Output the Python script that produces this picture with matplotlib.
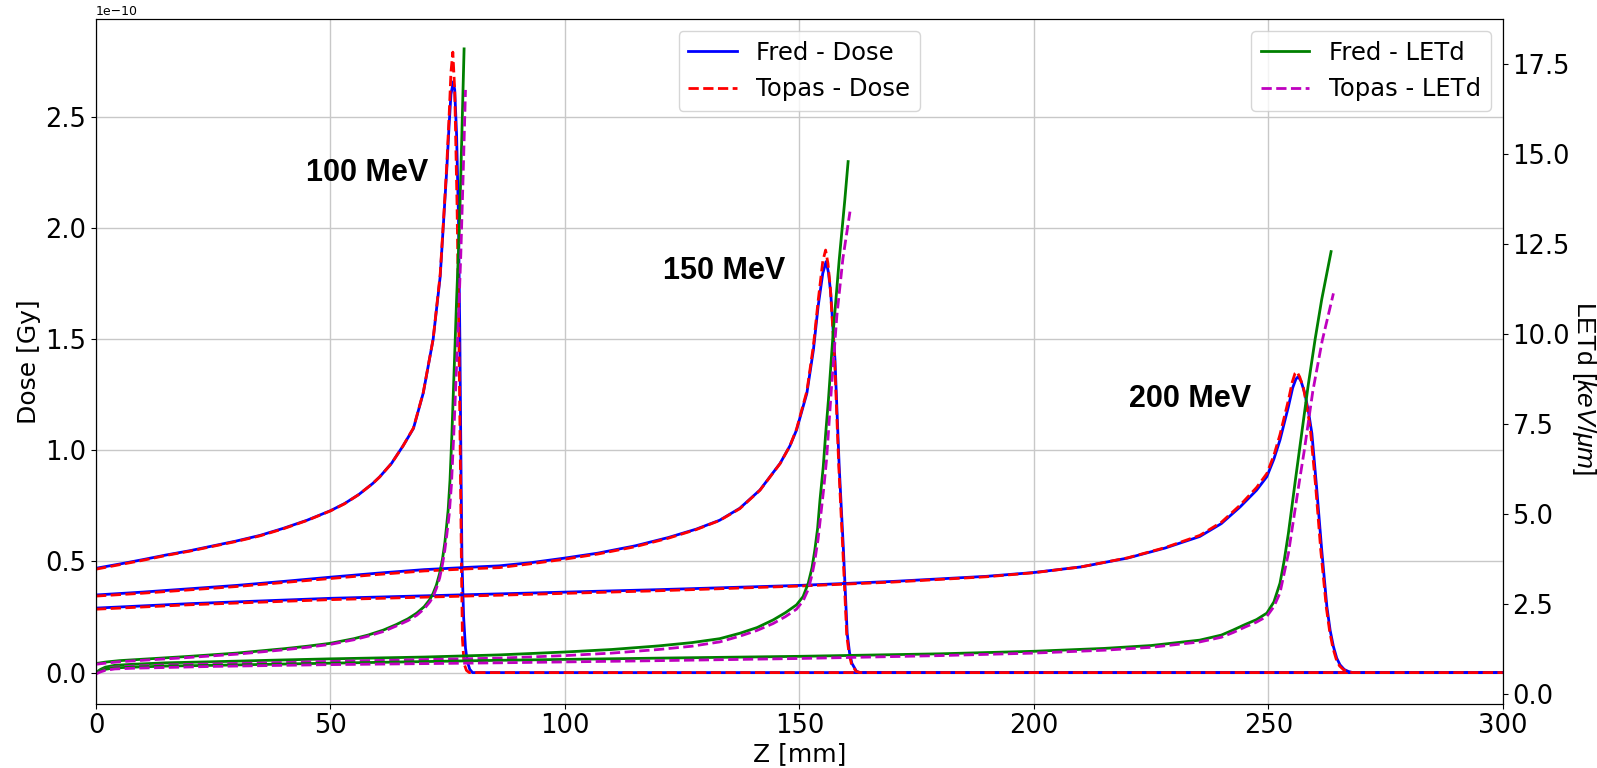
import matplotlib
matplotlib.use("Agg")
import matplotlib.pyplot as plt

plt.rcParams['mathtext.fontset'] = 'custom'
plt.rcParams['mathtext.rm'] = 'Liberation Sans'
plt.rcParams['mathtext.it'] = 'Liberation Sans:italic'

# ---------------- data (dose in units of 1e-10 Gy, LETd in keV/um) ----------------
DOSE_UNIT = 1e-10

# ---- 100 MeV ----
z100_fred_dose = [0, 5, 10, 15, 20, 25, 30, 35, 40, 45, 50, 53, 56, 59, 60.5, 63, 65.5, 67.7, 69.8,
                  71.9, 73.4, 74.1, 74.8, 75.3, 75.7, 76.2, 76.5, 76.9, 77.3, 77.6, 77.85, 78.05,
                  78.4, 78.8, 79.2, 79.7, 80.3, 300]
d100_fred_dose = [0.469, 0.488, 0.508, 0.529, 0.548, 0.57, 0.592, 0.617, 0.649, 0.685, 0.728, 0.76,
                  0.80, 0.85, 0.88, 0.94, 1.02, 1.098, 1.258, 1.499, 1.78, 2.02, 2.26, 2.46, 2.60,
                  2.657, 2.62, 2.42, 2.05, 1.5, 0.9, 0.5, 0.25, 0.11, 0.05, 0.015, 0.0, 0.0]
z100_topas_dose = [0, 5, 10, 15, 20, 25, 30, 35, 40, 45, 50, 53, 56, 59, 60.5, 63, 65.5, 67.7, 69.8,
                   71.9, 73.4, 74.1, 74.8, 75.3, 75.7, 76.1, 76.5, 77.0, 77.4, 77.7, 77.95, 78.15,
                   78.5, 79.0, 79.6, 300]
d100_topas_dose = [0.465, 0.485, 0.505, 0.527, 0.546, 0.568, 0.59, 0.615, 0.647, 0.684, 0.727, 0.759,
                   0.80, 0.85, 0.88, 0.94, 1.02, 1.10, 1.26, 1.50, 1.79, 2.03, 2.28, 2.50, 2.70,
                   2.79, 2.62, 2.10, 1.50, 0.95, 0.45, 0.15, 0.04, 0.01, 0.0, 0.0]
z100_fred_let = [0, 2, 5, 10, 20, 30, 40, 45, 49.9, 55, 58, 61.3, 64, 66.5, 68.4, 70, 71.2, 71.9,
                 72.6, 73.3, 73.9, 74.4, 74.8, 75.1, 75.5, 75.9, 76.3, 76.6, 76.9, 77.5, 78.0, 78.5]
l100_fred_let = [0.84, 0.88, 0.92, 0.96, 1.04, 1.13, 1.25, 1.32, 1.40, 1.53, 1.63, 1.77, 1.92, 2.08,
                 2.24, 2.42, 2.62, 2.79, 3.02, 3.35, 3.75, 4.2, 4.7, 5.1, 5.94, 7.2, 8.7, 9.8, 10.94,
                 12.94, 15.4, 17.91]
z100_topas_let = [0, 2, 5, 10, 20, 30, 40, 45, 49.9, 55, 58, 61.3, 64, 66.5, 68.4, 70, 71.2, 71.9,
                  72.6, 73.3, 73.9, 74.4, 74.8, 75.3, 75.8, 76.3, 76.8, 77.3, 77.8, 78.3, 78.8]
l100_topas_let = [0.82, 0.85, 0.89, 0.93, 1.01, 1.10, 1.22, 1.29, 1.37, 1.50, 1.60, 1.73, 1.88, 2.03,
                  2.18, 2.36, 2.55, 2.70, 2.93, 3.22, 3.6, 4.0, 4.4, 4.95, 5.8, 7.2, 8.8, 10.4, 12.2,
                  14.4, 16.77]

# ---- 150 MeV ----
z150_fred_dose = [0, 10, 20, 30, 40, 50, 60, 70, 80, 86, 93, 100, 107, 115, 122, 128, 133, 137.3,
                  141.6, 145.9, 148, 149.4, 151.6, 153.0, 154.0, 155.0, 155.7, 156.2, 156.7, 157.6,
                  158.5, 159.4, 160.2, 160.7, 161.2, 162.2, 163, 300]
d150_fred_dose = [0.349, 0.362, 0.377, 0.392, 0.41, 0.429, 0.447, 0.463, 0.474, 0.48, 0.495, 0.515,
                  0.537, 0.57, 0.607, 0.645, 0.685, 0.739, 0.821, 0.941, 1.02, 1.091, 1.256, 1.451,
                  1.646, 1.796, 1.848, 1.80, 1.706, 1.406, 0.926, 0.552, 0.177, 0.09, 0.042, 0.005,
                  0.0, 0.0]
z150_topas_dose = [0, 10, 20, 30, 40, 50, 60, 70, 80, 86, 93, 100, 107, 115, 122, 128, 133, 137.3,
                   141.6, 145.9, 148, 149.4, 151.6, 153.0, 154.0, 155.0, 155.6, 156.1, 156.6, 157.5,
                   158.4, 159.3, 160.1, 160.6, 161.1, 162.1, 163, 300]
d150_topas_dose = [0.344, 0.357, 0.372, 0.387, 0.405, 0.423, 0.441, 0.457, 0.467, 0.472, 0.49, 0.51,
                   0.533, 0.566, 0.604, 0.643, 0.684, 0.737, 0.82, 0.94, 1.02, 1.095, 1.265, 1.47,
                   1.67, 1.85, 1.90, 1.84, 1.73, 1.42, 0.93, 0.54, 0.17, 0.085, 0.04, 0.005, 0.0, 0.0]
z150_fred_let = [0, 1, 2, 4, 8, 15, 25, 40, 50, 70, 86, 100, 110, 120, 127, 133, 137.3, 141, 144.4,
                 147, 149.4, 150.8, 151.9, 152.7, 153.3, 153.9, 154.4, 155.1, 155.6, 156.2, 157.2,
                 158.5, 159.7, 160.4]
l150_fred_let = [0.59, 0.68, 0.74, 0.79, 0.82, 0.86, 0.89, 0.94, 0.97, 1.02, 1.08, 1.16, 1.23, 1.33,
                 1.42, 1.53, 1.68, 1.84, 2.05, 2.25, 2.47, 2.7, 3.07, 3.5, 3.99, 4.6, 5.38, 6.31, 7.2,
                 8.16, 10.01, 12.05, 13.72, 14.78]
z150_topas_let = [0, 1, 2, 4, 8, 15, 25, 40, 50, 70, 86, 100, 110, 120, 127, 133, 137.3, 141, 144.4,
                  147, 149.4, 150.8, 151.9, 152.7, 153.3, 154.0, 154.6, 155.2, 155.8, 156.8, 158.0,
                  159.3, 160.8]
l150_topas_let = [0.57, 0.64, 0.69, 0.74, 0.77, 0.80, 0.83, 0.87, 0.90, 0.95, 0.99, 1.06, 1.13, 1.23,
                  1.32, 1.44, 1.60, 1.76, 1.95, 2.14, 2.35, 2.58, 2.9, 3.3, 3.7, 4.3, 5.0, 5.7, 6.5,
                  8.4, 10.5, 12.1, 13.39]

# ---- 200 MeV ----
z200_fred_dose = [0, 20, 50, 86, 120, 150, 170, 190, 200, 210, 220, 228, 235.4, 240, 244, 247.5,
                  249.7, 251.2, 252.5, 254.3, 255.2, 255.9, 256.4, 257, 257.8, 258.6, 259.3, 260.3,
                  261.4, 262.5, 263.2, 263.9, 264.6, 265.3, 266.2, 267.1, 268, 300]
d200_fred_dose = [0.29, 0.31, 0.334, 0.354, 0.373, 0.392, 0.41, 0.433, 0.45, 0.475, 0.515, 0.56,
                  0.612, 0.67, 0.745, 0.82, 0.881, 0.96, 1.046, 1.196, 1.28, 1.32, 1.331, 1.31,
                  1.256, 1.17, 1.076, 0.836, 0.552, 0.297, 0.19, 0.117, 0.065, 0.035, 0.014, 0.005,
                  0.0, 0.0]
z200_topas_dose = [0, 20, 50, 86, 120, 150, 170, 190, 200, 210, 220, 228, 235.4, 240, 244, 247.5,
                   249.7, 251.2, 252.5, 254.3, 255.1, 255.7, 256.1, 256.7, 257.5, 258.3, 259.0, 260.1,
                   261.2, 262.4, 263.1, 263.8, 264.5, 265.2, 266.1, 267.0, 268, 300]
d200_topas_dose = [0.285, 0.305, 0.328, 0.348, 0.368, 0.389, 0.407, 0.431, 0.449, 0.475, 0.516, 0.562,
                   0.617, 0.676, 0.753, 0.832, 0.895, 0.977, 1.07, 1.225, 1.305, 1.345, 1.353, 1.33,
                   1.28, 1.19, 1.09, 0.84, 0.55, 0.29, 0.185, 0.11, 0.06, 0.03, 0.012, 0.004, 0.0, 0.0]
z200_fred_let = [0, 1, 2, 4, 8, 15, 25, 50, 86, 120, 150, 180, 200, 215, 225, 235.4, 240, 242.5, 245,
                 247.5, 249.7, 251.2, 252.5, 253.4, 254.3, 255, 255.7, 257.1, 258.5, 260.0, 261.4,
                 263.4]
l200_fred_let = [0.57, 0.64, 0.68, 0.72, 0.74, 0.77, 0.79, 0.85, 0.93, 0.99, 1.04, 1.11, 1.18, 1.26,
                 1.34, 1.49, 1.63, 1.77, 1.92, 2.06, 2.24, 2.55, 3.07, 3.7, 4.46, 5.15, 5.85, 7.2,
                 8.55, 9.85, 10.95, 12.28]
z200_topas_let = [0, 1, 2, 4, 8, 15, 25, 50, 86, 120, 150, 180, 200, 215, 225, 235.4, 240, 242.5,
                  245, 247.5, 249.7, 251.2, 252.5, 253.4, 254.3, 255, 255.7, 256.7, 257.7, 259.5,
                  261.5, 263.9]
l200_topas_let = [0.55, 0.61, 0.65, 0.69, 0.71, 0.73, 0.76, 0.81, 0.86, 0.92, 0.98, 1.06, 1.13, 1.21,
                  1.29, 1.44, 1.57, 1.70, 1.85, 1.99, 2.15, 2.42, 2.8, 3.35, 3.9, 4.5, 5.1, 5.95,
                  6.77, 8.4, 9.8, 11.12]

energy_labels = ["100 MeV", "150 MeV", "200 MeV"]
energy_label_z = [44.8, 120.9, 220.4]
energy_label_dose = [2.211, 1.769, 1.196]

# ---------------- figure ----------------
W, H = 1597, 768
fig = plt.figure(figsize=(W / 100, H / 100), dpi=100)
ax = fig.add_axes([96 / W, 1 - 703.5 / H, (1502.7 - 96) / W, (703.5 - 19) / H])
ax2 = ax.twinx()

LW = 2.0
dose_sets = [(z100_fred_dose, d100_fred_dose, z100_topas_dose, d100_topas_dose),
             (z150_fred_dose, d150_fred_dose, z150_topas_dose, d150_topas_dose),
             (z200_fred_dose, d200_fred_dose, z200_topas_dose, d200_topas_dose)]
let_sets = [(z100_fred_let, l100_fred_let, z100_topas_let, l100_topas_let),
            (z150_fred_let, l150_fred_let, z150_topas_let, l150_topas_let),
            (z200_fred_let, l200_fred_let, z200_topas_let, l200_topas_let)]

for i, (zf, df, zt, dt) in enumerate(dose_sets):
    ax.plot(zf, [v * DOSE_UNIT for v in df], 'b-', lw=LW, label='Fred - Dose' if i == 0 else None)
    ax.plot(zt, [v * DOSE_UNIT for v in dt], 'r--', lw=LW, label='Topas - Dose' if i == 0 else None)

for i, (zf, lf, zt, lt) in enumerate(let_sets):
    ax2.plot(zf, lf, 'g-', lw=LW, label='Fred - LETd' if i == 0 else None)
    ax2.plot(zt, lt, 'm--', lw=LW, label='Topas - LETd' if i == 0 else None)

for txt, zx, dy in zip(energy_labels, energy_label_z, energy_label_dose):
    ax.text(zx, dy * DOSE_UNIT, txt, fontsize=22, fontweight='bold',
            family=['Liberation Sans', 'DejaVu Sans'], ha='left', va='baseline')

ax.set_xlim(0, 300)
ax.set_ylim(-0.139 * DOSE_UNIT, 2.939 * DOSE_UNIT)
ax2.set_ylim(-0.27, 18.74)
ax.set_xticks([0, 50, 100, 150, 200, 250, 300])
ax.grid(True, color='#c8c8c8', lw=1.0)

TICK_FS = 18.5
ax.tick_params(labelsize=TICK_FS)
ax2.tick_params(labelsize=TICK_FS)
ax.yaxis.get_offset_text().set_fontsize(9)

ax.set_xlabel('Z [mm]', fontsize=18, labelpad=2)
ax.set_ylabel('Dose [Gy]', fontsize=18, labelpad=3)
ax2.set_ylabel(r'LETd [$keV/\mu m$]', fontsize=19, rotation=270,
               family=['Liberation Sans', 'DejaVu Sans'], ha='center', va='center')
ax2.yaxis.set_label_coords(1.0575, 0.46)

leg1 = ax.legend(loc='upper center', fontsize=17.5)
leg2 = ax2.legend(loc='upper right', fontsize=17.5)

fig.savefig('out.png', dpi=100)
